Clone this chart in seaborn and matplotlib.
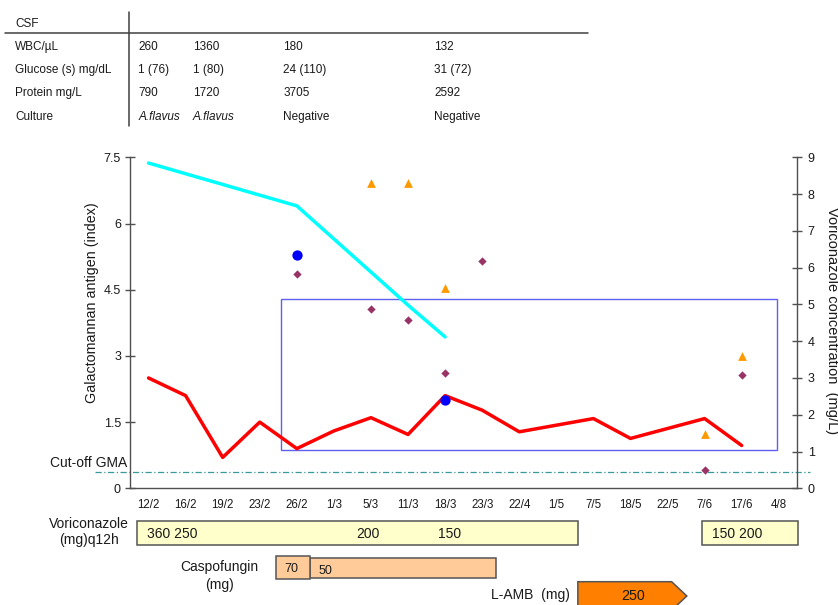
import numpy as np
import pandas as pd
import matplotlib
matplotlib.use("Agg")
import matplotlib.pyplot as plt
import seaborn as sns
from matplotlib.patches import Rectangle, Polygon
from matplotlib.transforms import blended_transform_factory

# ---------------- data ----------------
dates = ["12/2", "16/2", "19/2", "23/2", "26/2", "1/3", "5/3", "11/3", "18/3",
         "23/3", "22/4", "1/5", "7/5", "18/5", "22/5", "7/6", "17/6", "4/8"]
nan = np.nan
gma_serum = [2.5, 2.1, 0.7, 1.5, 0.9, 1.3, 1.6, 1.22, 2.1, 1.77, 1.28, nan,
             1.58, 1.13, nan, 1.58, 0.97, nan]
cyan_series = [7.37, nan, nan, nan, 6.4, nan, nan, 4.15, 3.43, nan, nan, nan,
               nan, nan, nan, nan, nan, nan]
gma_csf = [nan, nan, nan, nan, 5.29, nan, nan, nan, 1.99, nan, nan, nan,
           nan, nan, nan, nan, nan, nan]
vrc_peak = [nan, nan, nan, nan, nan, nan, 8.29, 8.31, 5.45, nan, nan, nan,
            nan, nan, nan, 1.49, 3.59, nan]
vrc_trough = [nan, nan, nan, nan, 5.83, nan, 4.88, 4.57, 3.14, 6.18, nan, nan,
              nan, nan, nan, 0.49, 3.09, nan]
cutoff_gma = 0.38
box_x = (3.57, 16.96)
box_y = (0.87, 4.28)

left_ticks = [0, 1.5, 3, 4.5, 6, 7.5]
left_tick_labels = ["0", "1.5", "3", "4.5", "6", "7.5"]
right_ticks = list(range(10))

csf_rows = ["WBC/µL", "Glucose (s) mg/dL", "Protein mg/L", "Culture"]
csf_values = [["260", "1360", "180", "132"],
              ["1 (76)", "1 (80)", "24 (110)", "31 (72)"],
              ["790", "1720", "3705", "2592"],
              ["A.flavus", "A.flavus", "Negative", "Negative"]]

vori_spans = [(-0.30, 11.58), (14.92, 17.53)]
vori_dose_labels = ["360 250", "200", "150", "150 200"]
vori_dose_pos = [0.65, 5.93, 8.11, 15.88]
caspo_spans = [(3.43, 4.36), (4.36, 9.37)]
caspo_dose_labels = ["70", "50"]
lamb_span = (11.58, 14.11, 14.52)
lamb_dose_label = "250"
lamb_dose_pos = 13.08

# ---------------- style ----------------
sns.set_style("white")
plt.rcParams["font.family"] = ["Liberation Sans", "DejaVu Sans"]
spine_col = "#505050"
txt_col = "#1a1a1a"

fig = plt.figure(figsize=(8.38, 6.05), dpi=100)
W, H = 838.0, 605.0
ax = fig.add_axes([130 / W, 1 - 488.3 / H, 667.3 / W, 331 / H])
x = np.arange(len(dates))
df = pd.DataFrame({"x": x, "serum": gma_serum, "cyan": cyan_series,
                   "csf": gma_csf, "peak": vrc_peak, "trough": vrc_trough})

d = df.dropna(subset=["cyan"])
sns.lineplot(data=d, x="x", y="cyan", color="#00FFFF", linewidth=2.5, ax=ax,
             estimator=None, sort=True)
d = df.dropna(subset=["serum"])
sns.lineplot(data=d, x="x", y="serum", color="#FF0000", linewidth=2.5, ax=ax,
             estimator=None, sort=True)
d = df.dropna(subset=["csf"])
sns.scatterplot(data=d, x="x", y="csf", color="#0000FF", s=55, linewidth=0,
                ax=ax, zorder=4)

ax.add_patch(Rectangle((box_x[0], box_y[0]), box_x[1] - box_x[0],
                       box_y[1] - box_y[0], fill=False, edgecolor="#6060F0",
                       linewidth=1.0, zorder=1))

ax.set_xlim(-0.5, 17.5)
ax.set_ylim(0, 7.5)
ax.set_xticks(x)
ax.set_xticklabels(dates, fontsize=8.3, color=txt_col)
ax.set_xticks(np.arange(-0.5, 18, 1), minor=True)
ax.tick_params(axis="x", which="major", length=0, pad=8)
ax.tick_params(axis="x", which="minor", direction="inout", length=7,
               color=spine_col, width=1)
ax.set_yticks(left_ticks)
ax.set_yticklabels(left_tick_labels, fontsize=9, color=txt_col)
ax.tick_params(axis="y", direction="inout", length=7, color=spine_col,
               width=1, pad=3, left=True)
ax.set_xlabel("")
ax.set_ylabel("Galactomannan antigen (index)", fontsize=10.3, color=txt_col,
              va="center")
ax.yaxis.set_label_coords(-0.0574, 0.56)
for s in ["top", "right"]:
    ax.spines[s].set_visible(False)
for s in ["left", "bottom"]:
    ax.spines[s].set_color(spine_col)
    ax.spines[s].set_linewidth(1)

# cut-off line
tr = blended_transform_factory(ax.transAxes, ax.transData)
ax.plot([-0.052, 1.019], [cutoff_gma, cutoff_gma], transform=tr,
        color="#3A9A9A", linewidth=0.9, linestyle=(0, (5, 2, 1, 2)),
        clip_on=False, zorder=1)
ax.text(-0.12, 0.58, "Cut-off GMA", transform=tr, fontsize=10,
        ha="left", va="center", color=txt_col)

# right axis
ax2 = ax.twinx()
d = df.dropna(subset=["peak"])
sns.scatterplot(data=d, x="x", y="peak", color="#FF9900", marker="^", s=40,
                linewidth=0, ax=ax2)
d = df.dropna(subset=["trough"])
sns.scatterplot(data=d, x="x", y="trough", color="#993366", marker="D", s=18,
                linewidth=0, ax=ax2)
ax2.set_ylim(0, 9)
ax2.set_xlim(-0.5, 17.5)
ax2.set_yticks(right_ticks)
ax2.set_yticklabels([str(t) for t in right_ticks], fontsize=9, color=txt_col)
ax2.tick_params(axis="y", direction="inout", length=7, color=spine_col,
                width=1, pad=4, right=True)
ax2.set_ylabel("Voriconazole concentration  (mg/L)", fontsize=10.5,
               rotation=270, color=txt_col, va="center")
ax2.yaxis.set_label_coords(1.0515, 0.508)
for s in ["top", "left", "bottom"]:
    ax2.spines[s].set_visible(False)
ax2.spines["right"].set_color(spine_col)
ax2.spines["right"].set_linewidth(1)

# ---------------- treatment bars (data x, pixel y) ----------------
axb = fig.add_axes([130 / W, 0, 667.3 / W, 1])
axb.set_xlim(-0.5, 17.5)
axb.set_ylim(H, 0)
axb.axis("off")
edge = "#555555"
for (a, b) in vori_spans:
    axb.add_patch(Rectangle((a, 520.7), b - a, 24.3, facecolor="#FFFFCC",
                            edgecolor=edge, linewidth=1.1, clip_on=False))
for lab, p in zip(vori_dose_labels, vori_dose_pos):
    axb.text(p, 533.5, lab, ha="center", va="center", fontsize=10,
             color=txt_col)
axb.add_patch(Rectangle((caspo_spans[1][0], 558.3),
                        caspo_spans[1][1] - caspo_spans[1][0], 20,
                        facecolor="#FFCC99", edgecolor=edge, linewidth=1.1,
                        clip_on=False))
axb.add_patch(Rectangle((caspo_spans[0][0], 555.7),
                        caspo_spans[0][1] - caspo_spans[0][0], 23.6,
                        facecolor="#FFCC99", edgecolor=edge, linewidth=1.1,
                        clip_on=False))
axb.text((caspo_spans[0][0] + caspo_spans[0][1]) / 2 - 0.05, 569.3,
         caspo_dose_labels[0], ha="center", va="center", fontsize=9,
         color=txt_col)
axb.text(caspo_spans[1][0] + 0.22, 571, caspo_dose_labels[1], ha="left",
         va="center", fontsize=9, color=txt_col)
a, b, tip = lamb_span
axb.add_patch(Polygon([(a, 581.7), (b, 581.7), (tip, 596), (b, 610.3),
                       (a, 610.3)], closed=True, facecolor="#FF8000",
                      edgecolor=edge, linewidth=1.1, clip_on=False))
axb.text(lamb_dose_pos, 596, lamb_dose_label, ha="center", va="center",
         fontsize=10.3, color=txt_col)

# ---------------- table & labels (figure pixels) ----------------
axt = fig.add_axes([0, 0, 1, 1])
axt.set_xlim(0, W)
axt.set_ylim(H, 0)
axt.axis("off")
axt.text(15, 24, "CSF", fontsize=8.5, va="center", ha="left", color=txt_col)
axt.plot([5, 588], [33.3, 33.3], color="#404040", linewidth=1.1)
axt.plot([129.3, 129.3], [11.7, 126], color="#404040", linewidth=1.1)
row_y = [46.7, 70, 93.3, 116.7]
col_x = [138.3, 192.7, 283.3, 434]
for r, (name, vals) in enumerate(zip(csf_rows, csf_values)):
    axt.text(15, row_y[r], name, fontsize=8.5, va="center", ha="left",
             color=txt_col)
    for c, v in enumerate(vals):
        style = "italic" if v.startswith("A.") else "normal"
        axt.text(col_x[c], row_y[r], v, fontsize=8.5, va="center", ha="left",
                 color=txt_col, style=style)

axt.text(89, 532, "Voriconazole\n(mg)q12h", fontsize=10, ha="center",
         va="center", multialignment="center", linespacing=1.15,
         color=txt_col)
axt.text(219.3, 576, "Caspofungin\n(mg)", fontsize=10, ha="center",
         va="center", multialignment="center", linespacing=1.35,
         color=txt_col)
axt.text(570, 595, "L-AMB  (mg)", fontsize=10, ha="right", va="center",
         color=txt_col)

fig.savefig("out.png", dpi=100)
